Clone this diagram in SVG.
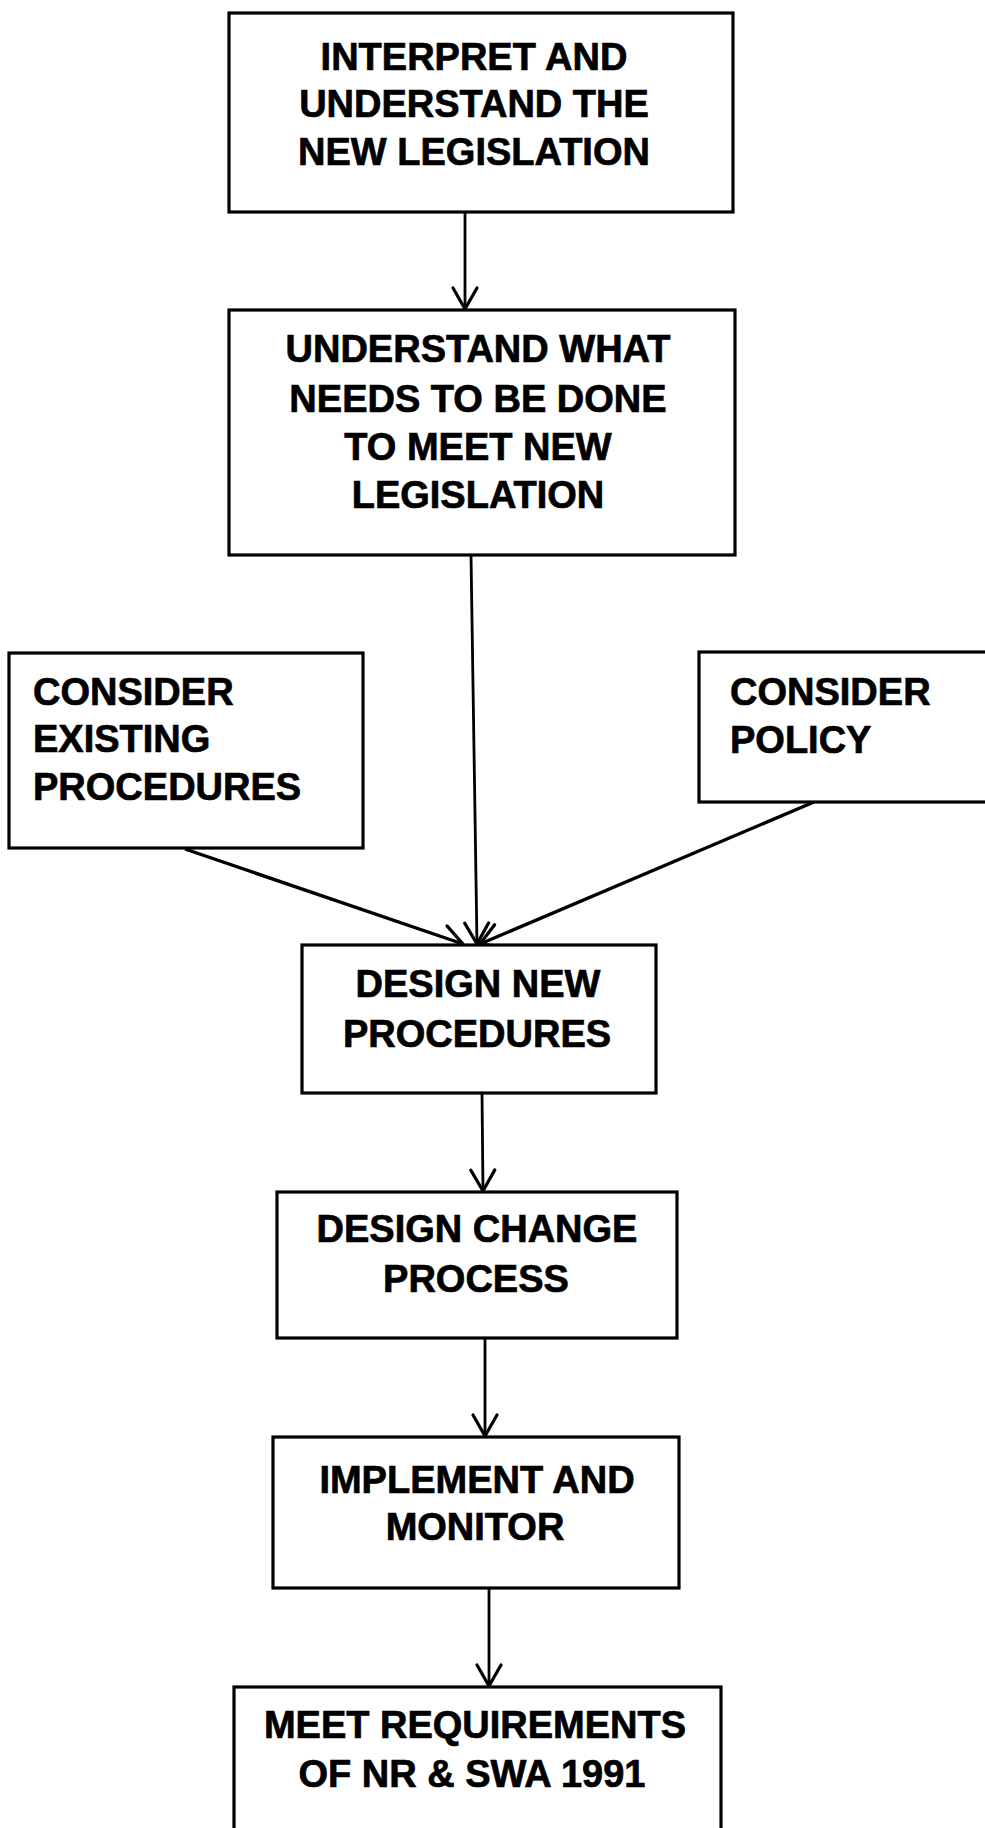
<svg xmlns="http://www.w3.org/2000/svg" width="985" height="1828" viewBox="0 0 985 1828">
<style>
.box{fill:#fff;stroke:#000;stroke-width:3.2}
.t{font-family:"Liberation Sans",Arial,Helvetica,sans-serif;font-weight:bold;font-size:38px;fill:#000;stroke:#000;stroke-width:0.7}
.c{text-anchor:middle}
.edge{stroke:#000;stroke-width:2.8;fill:none;marker-end:url(#arr)}
.side{stroke-width:3.4}
</style>
<defs>
<marker id="arr" markerUnits="userSpaceOnUse" markerWidth="40" markerHeight="40" refX="0" refY="0" orient="auto" viewBox="-25 -20 30 40" overflow="visible">
<path d="M-21,-12 L0,0 L-21,12" fill="none" stroke="#000" stroke-width="3.2" stroke-linecap="round" stroke-linejoin="round"/>
</marker>
</defs>
<rect width="985" height="1828" fill="#fff"/>
<g id="connectors">
<line class="edge" x1="465" y1="212" x2="465" y2="309"/>
<line class="edge" x1="471" y1="555" x2="477" y2="944"/>
<line class="edge side" x1="185" y1="849" x2="463" y2="944"/>
<line class="edge side" x1="814" y1="802" x2="480" y2="944"/>
<line class="edge" x1="482" y1="1093" x2="483" y2="1191"/>
<line class="edge" x1="485" y1="1338" x2="485" y2="1436"/>
<line class="edge" x1="489" y1="1588" x2="489" y2="1686"/>
</g>
<g id="n1">
<rect class="box" x="229" y="13" width="504" height="199"/>
<text class="t c" x="474" y="70">INTERPRET AND</text>
<text class="t c" x="474" y="117">UNDERSTAND THE</text>
<text class="t c" x="474" y="165">NEW LEGISLATION</text>
</g>
<g id="n2">
<rect class="box" x="229" y="310" width="506" height="245"/>
<text class="t c" x="478" y="362">UNDERSTAND WHAT</text>
<text class="t c" x="478" y="412">NEEDS TO BE DONE</text>
<text class="t c" x="478" y="460">TO MEET NEW</text>
<text class="t c" x="478" y="508">LEGISLATION</text>
</g>
<g id="n3">
<rect class="box" x="9" y="653" width="354" height="195"/>
<text class="t" x="33" y="705">CONSIDER</text>
<text class="t" x="33" y="752">EXISTING</text>
<text class="t" x="33" y="800">PROCEDURES</text>
</g>
<g id="n4">
<rect class="box" x="699" y="652" width="300" height="150"/>
<text class="t" x="730" y="705">CONSIDER</text>
<text class="t" x="730" y="753">POLICY</text>
</g>
<g id="n5">
<rect class="box" x="302" y="945" width="354" height="148"/>
<text class="t c" x="478" y="997">DESIGN NEW</text>
<text class="t c" x="477" y="1047">PROCEDURES</text>
</g>
<g id="n6">
<rect class="box" x="277" y="1192" width="400" height="146"/>
<text class="t c" x="477" y="1242">DESIGN CHANGE</text>
<text class="t c" x="476" y="1292">PROCESS</text>
</g>
<g id="n7">
<rect class="box" x="273" y="1437" width="406" height="151"/>
<text class="t c" x="477" y="1493">IMPLEMENT AND</text>
<text class="t c" x="475" y="1540">MONITOR</text>
</g>
<g id="n8">
<rect class="box" x="234" y="1687" width="487" height="160"/>
<text class="t c" x="475" y="1738">MEET REQUIREMENTS</text>
<text class="t c" x="472" y="1787">OF NR &amp; SWA 1991</text>
</g>
</svg>
